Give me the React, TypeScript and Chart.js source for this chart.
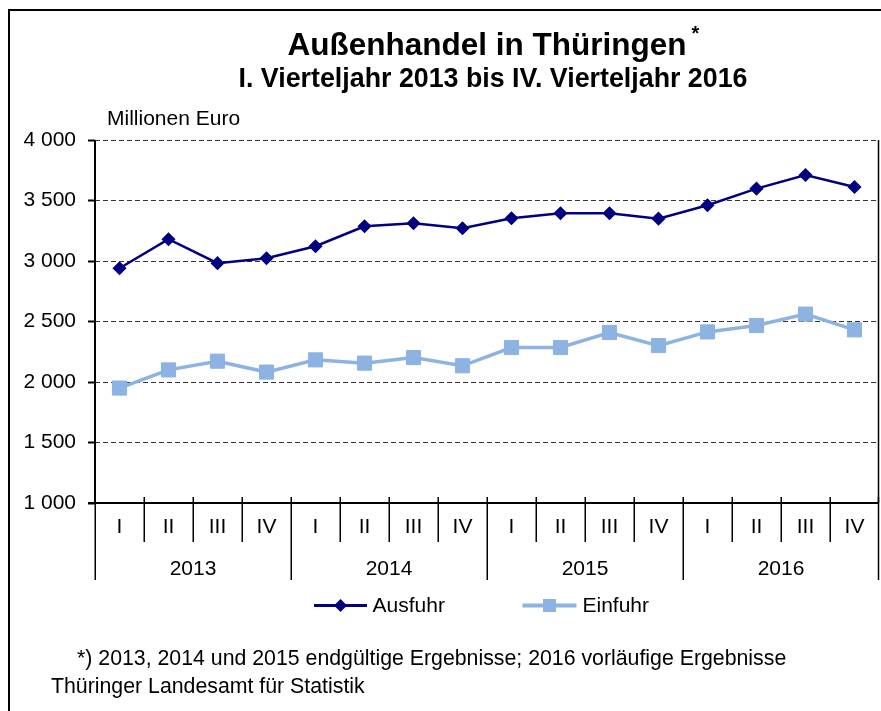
import React, { useEffect, useRef } from "react";
import { Chart, registerables } from "chart.js";

Chart.register(...registerables);

const quarterLabels = ["I", "II", "III", "IV", "I", "II", "III", "IV", "I", "II", "III", "IV", "I", "II", "III", "IV"];
const yearLabels = ["2013", "2014", "2015", "2016"];
const ausfuhr = [2940, 3180, 2982, 3023, 3122, 3287, 3312, 3271, 3353, 3395, 3395, 3350, 3461, 3598, 3711, 3612];
const einfuhr = [1950, 2100, 2172, 2082, 2183, 2156, 2202, 2134, 2285, 2285, 2409, 2301, 2414, 2467, 2561, 2431];
const yMin = 1000;
const yMax = 4000;
const yStep = 500;
const seriesNames = ["Ausfuhr", "Einfuhr"];
const titleText = "Außenhandel in Thüringen";
const subtitleText = "I. Vierteljahr 2013 bis IV. Vierteljahr 2016";
const unitText = "Millionen Euro";
const footnoteText = "*) 2013, 2014 und 2015 endgültige Ergebnisse; 2016 vorläufige Ergebnisse";
const sourceText = "Thüringer Landesamt für Statistik";

const FONT = "'Liberation Sans', Arial, sans-serif";
const C_AUS = "#000080";
const C_EIN = "#8DB3E2";

const fmt = (v: number) => {
  const s = String(Math.round(v));
  return s.replace(/\B(?=(\d{3})+(?!\d))/g, " ");
};

const decorPlugin = {
  id: "decor",
  afterDraw(chart: any) {
    const ctx = chart.ctx as CanvasRenderingContext2D;
    const { left, right, top, bottom } = chart.chartArea;
    const xs = chart.scales.x;
    ctx.save();

    // outer frame
    ctx.strokeStyle = "#000";
    ctx.lineWidth = 2;
    ctx.beginPath();
    ctx.moveTo(9, 720);
    ctx.lineTo(9, 10);
    ctx.lineTo(890, 10);
    ctx.stroke();

    // category boundaries
    const p0 = xs.getPixelForValue(0);
    const w = xs.getPixelForValue(1) - p0;
    const n = quarterLabels.length;
    ctx.lineWidth = 1.5;
    for (let i = 0; i <= n; i++) {
      let bx = Math.round(p0 - w / 2 + i * w) + 0.25;
      if (i === n) bx -= 0.75;
      ctx.beginPath();
      ctx.moveTo(bx, bottom - 6);
      ctx.lineTo(bx, i % 4 === 0 ? bottom + 77 : bottom + 39);
      ctx.stroke();
    }
    // axes
    ctx.lineWidth = 2;
    ctx.beginPath();
    ctx.moveTo(left, top);
    ctx.lineTo(left, bottom);
    ctx.moveTo(left - 7, bottom);
    ctx.lineTo(right, bottom);
    ctx.stroke();
    ctx.lineWidth = 1.5;
    ctx.beginPath();
    ctx.moveTo(right - 0.5, top);
    ctx.lineTo(right - 0.5, bottom);
    ctx.stroke();

    // year labels
    ctx.fillStyle = "#000";
    ctx.font = `21px ${FONT}`;
    ctx.textAlign = "center";
    ctx.textBaseline = "alphabetic";
    yearLabels.forEach((yl, k) => {
      const cx = p0 - w / 2 + (k * 4 + 2) * w;
      ctx.fillText(yl, cx, 575);
    });

    // titles
    ctx.font = `bold 31.5px ${FONT}`;
    const tw = ctx.measureText(titleText).width;
    const tx = 487 - tw / 2;
    ctx.textAlign = "left";
    ctx.fillText(titleText, tx, 55);
    ctx.font = `bold 20px ${FONT}`;
    ctx.fillText("*", tx + tw + 5, 40);
    ctx.font = `bold 26.8px ${FONT}`;
    ctx.textAlign = "center";
    ctx.fillText(subtitleText, 493, 87);

    ctx.font = `21px ${FONT}`;
    ctx.textAlign = "left";
    ctx.fillText(unitText, 107, 125);

    // legend
    const ly = 605.5;
    ctx.lineWidth = 3;
    ctx.strokeStyle = C_AUS;
    ctx.beginPath();
    ctx.moveTo(314, ly);
    ctx.lineTo(367, ly);
    ctx.stroke();
    ctx.fillStyle = C_AUS;
    ctx.beginPath();
    const dr = 6.5;
    ctx.moveTo(340.5 - dr, ly);
    ctx.lineTo(340.5, ly - dr);
    ctx.lineTo(340.5 + dr, ly);
    ctx.lineTo(340.5, ly + dr);
    ctx.closePath();
    ctx.fill();
    ctx.lineWidth = 4;
    ctx.strokeStyle = C_EIN;
    ctx.beginPath();
    ctx.moveTo(522.5, ly);
    ctx.lineTo(576.5, ly);
    ctx.stroke();
    ctx.fillStyle = C_EIN;
    ctx.fillRect(549.5 - 6.5, ly - 6.5, 13, 13);
    ctx.fillStyle = "#000";
    ctx.font = `21px ${FONT}`;
    ctx.fillText(seriesNames[0], 372.5, 612);
    ctx.fillText(seriesNames[1], 582.5, 612);

    // footnotes
    ctx.font = `21.3px ${FONT}`;
    ctx.fillText(footnoteText, 77, 665);
    ctx.fillText(sourceText, 51, 693);
    ctx.restore();
  },
};

export default function App() {
  const ref = useRef<HTMLCanvasElement | null>(null);
  useEffect(() => {
    document.body.style.margin = "0";
    document.body.style.overflow = "hidden";
    const canvas = ref.current!;
    const chart = new Chart(canvas, {
      type: "line",
      data: {
        labels: quarterLabels,
        datasets: [
          {
            label: seriesNames[0],
            data: ausfuhr,
            borderColor: C_AUS,
            backgroundColor: C_AUS,
            borderWidth: 2.5,
            pointStyle: "rectRot",
            pointRadius: 6,
            pointBorderWidth: 1.5,
            pointBackgroundColor: C_AUS,
            pointBorderColor: C_AUS,
            tension: 0,
          },
          {
            label: seriesNames[1],
            data: einfuhr,
            borderColor: C_EIN,
            backgroundColor: C_EIN,
            borderWidth: 3.5,
            pointStyle: "rect",
            pointRadius: 10,
            pointBorderWidth: 1,
            pointBackgroundColor: C_EIN,
            pointBorderColor: C_EIN,
            tension: 0,
          },
        ],
      },
      options: {
        animation: false,
        responsive: false,
        maintainAspectRatio: false,
        layout: { autoPadding: false, padding: { top: 140, right: 2, left: 0, bottom: 0 } },
        plugins: {
          legend: { display: false },
          title: { display: false },
          tooltip: { enabled: false },
        },
        scales: {
          x: {
            type: "category",
            offset: true,
            grid: { display: false, drawTicks: false },
            border: { display: false },
            ticks: {
              color: "#000",
              font: { family: FONT, size: 21 },
              padding: 12,
              maxRotation: 0,
              autoSkip: false,
            },
            afterFit: (s: any) => {
              s.height = 208;
              s.paddingLeft = 0;
              s.paddingRight = 0;
            },
          },
          y: {
            min: yMin,
            max: yMax,
            grid: {
              color: "#333",
              lineWidth: 1,
              drawTicks: true,
              tickLength: 7,
              tickColor: "#000",
              tickWidth: 2,
            },
            border: { display: false, dash: [5, 3] },
            ticks: {
              stepSize: yStep,
              color: "#000",
              font: { family: FONT, size: 21 },
              padding: 12,
              callback: (v: any) => fmt(Number(v)),
            },
            afterFit: (s: any) => {
              s.width = 95;
            },
          },
        },
      },
      plugins: [decorPlugin],
    });
    return () => chart.destroy();
  }, []);
  return (
    <div style={{ position: "absolute", left: 0, top: 0, width: 881, height: 711, background: "#fff" }}>
      <canvas ref={ref} width={881} height={711} style={{ width: 881, height: 711, display: "block" }} />
    </div>
  );
}
